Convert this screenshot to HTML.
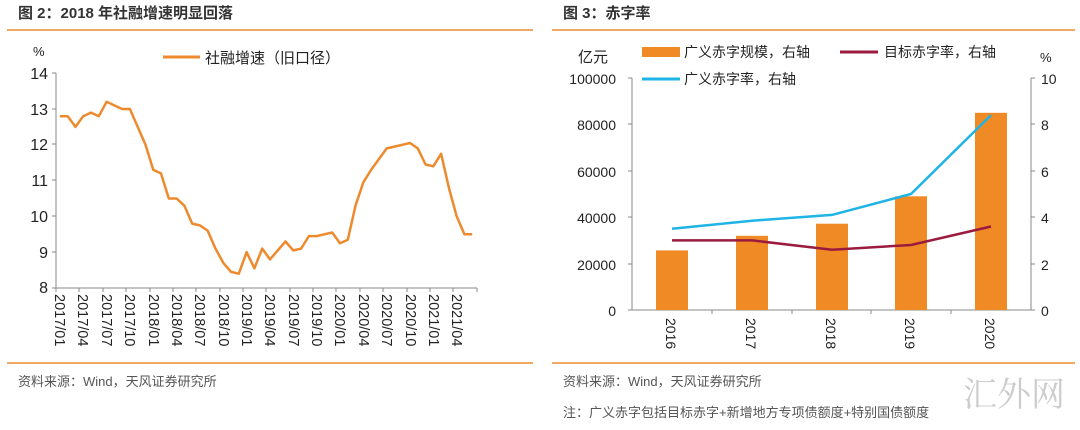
<!DOCTYPE html>
<html><head><meta charset="utf-8"><style>
body{margin:0;background:#fff;width:1080px;height:425px;overflow:hidden}
svg{font-family:"Liberation Sans","Noto Sans CJK SC",sans-serif}
</style></head><body>
<svg width="1080" height="425" viewBox="0 0 1080 425">
<g fill="#333" font-weight="bold" font-size="15"><text x="18" y="18">图 2：2018 年社融增速明显回落</text><text x="563" y="18">图 3：赤字率</text></g>
<g stroke="#EE8A2E" stroke-width="1.5"><line x1="7" y1="30" x2="533" y2="30"/><line x1="552" y1="30" x2="1075" y2="30"/><line x1="7" y1="363" x2="533" y2="363"/><line x1="552" y1="363" x2="1075" y2="363"/></g>
<g fill="#555" font-size="13"><text x="18" y="386">资料来源：Wind，天风证券研究所</text><text x="563" y="386">资料来源：Wind，天风证券研究所</text><text x="563" y="417">注：广义赤字包括目标赤字+新增地方专项债额度+特别国债额度</text></g>
<!-- left chart -->
<g font-size="16" fill="#222" text-anchor="end">
<text x="48" y="79">14</text><text x="48" y="115">13</text><text x="48" y="150">12</text><text x="48" y="186">11</text><text x="48" y="222">10</text><text x="48" y="258">9</text><text x="48" y="293">8</text></g>
<text x="33" y="56" font-size="13" fill="#222">%</text>
<g stroke="#888" stroke-width="1"><line x1="56" y1="73" x2="56" y2="288"/><line x1="56" y1="288" x2="477" y2="288"/>
<path d="M52 73H56M52 109H56M52 144H56M52 180H56M52 216H56M52 252H56M52 288H56"/>
<path d="M56 288v4M79 288v4M103 288v4M126 288v4M150 288v4M173 288v4M196 288v4M220 288v4M243 288v4M266 288v4M290 288v4M313 288v4M336 288v4M360 288v4M383 288v4M407 288v4M430 288v4M453 288v4M477 288v4"/></g>
<g font-size="14.5" fill="#222">
<text transform="translate(55,294) rotate(90)">2017/01</text><text transform="translate(78,294) rotate(90)">2017/04</text><text transform="translate(102,294) rotate(90)">2017/07</text><text transform="translate(125,294) rotate(90)">2017/10</text><text transform="translate(149,294) rotate(90)">2018/01</text><text transform="translate(172,294) rotate(90)">2018/04</text><text transform="translate(195,294) rotate(90)">2018/07</text><text transform="translate(219,294) rotate(90)">2018/10</text><text transform="translate(242,294) rotate(90)">2019/01</text><text transform="translate(265,294) rotate(90)">2019/04</text><text transform="translate(289,294) rotate(90)">2019/07</text><text transform="translate(312,294) rotate(90)">2019/10</text><text transform="translate(335,294) rotate(90)">2020/01</text><text transform="translate(359,294) rotate(90)">2020/04</text><text transform="translate(382,294) rotate(90)">2020/07</text><text transform="translate(406,294) rotate(90)">2020/10</text><text transform="translate(429,294) rotate(90)">2021/01</text><text transform="translate(452,294) rotate(90)">2021/04</text></g>
<line x1="163" y1="57" x2="200" y2="57" stroke="#EE8A2E" stroke-width="3"/>
<text x="205" y="63" font-size="15" fill="#222">社融增速（旧口径）</text>
<polyline id="ln" fill="none" stroke="#EE8A2E" stroke-width="2.5" stroke-linejoin="round" points=""/>
<!-- right chart -->
<g stroke="#888" stroke-width="1"><line x1="632" y1="78" x2="632" y2="310"/><line x1="1031" y1="78" x2="1031" y2="310"/><line x1="628" y1="310" x2="1035" y2="310"/>
<path d="M628 78H632M628 124H632M628 171H632M628 217H632M628 264H632M1031 78H1035M1031 124H1035M1031 171H1035M1031 217H1035M1031 264H1035M712 310v4M792 310v4M871 310v4M951 310v4"/></g>
<g font-size="14" fill="#222" text-anchor="end"><text x="616" y="84">100000</text><text x="616" y="130">80000</text><text x="616" y="177">60000</text><text x="616" y="223">40000</text><text x="616" y="270">20000</text><text x="616" y="316">0</text></g>
<g font-size="14" fill="#222"><text x="1041" y="84">10</text><text x="1041" y="130">8</text><text x="1041" y="177">6</text><text x="1041" y="223">4</text><text x="1041" y="270">2</text><text x="1041" y="316">0</text>
<text x="578" y="62" font-size="15">亿元</text><text x="1040" y="62" font-size="13">%</text></g>
<g font-size="14" fill="#222">
<text transform="translate(666,318) rotate(90)">2016</text><text transform="translate(746,318) rotate(90)">2017</text><text transform="translate(826,318) rotate(90)">2018</text><text transform="translate(905,318) rotate(90)">2019</text><text transform="translate(985,318) rotate(90)">2020</text></g>
<g fill="#F08A24"><rect x="656" y="250.4" width="32" height="59.6"/><rect x="736" y="235.8" width="32" height="74.2"/><rect x="816" y="223.7" width="32" height="86.3"/><rect x="895" y="196.3" width="32" height="113.7"/><rect x="975" y="112.8" width="32" height="197.2"/></g>
<polyline fill="none" stroke="#1EB4E6" stroke-width="2.5" points="672,228.8 752,220.7 832,214.9 911,194 991,115.1"/>
<polyline fill="none" stroke="#9B1B3E" stroke-width="2.5" points="672,240.4 752,240.4 832,249.7 911,245 991,226.5"/>
<rect x="642" y="47" width="38" height="10" fill="#F08A24"/><text x="684" y="57" font-size="14" fill="#222">广义赤字规模，右轴</text>
<line x1="840" y1="52" x2="878" y2="52" stroke="#9B1B3E" stroke-width="3"/><text x="884" y="57" font-size="14" fill="#222">目标赤字率，右轴</text>
<line x1="642" y1="79" x2="680" y2="79" stroke="#1EB4E6" stroke-width="3"/><text x="684" y="84" font-size="14" fill="#222">广义赤字率，右轴</text>
<g fill="#ccc" font-size="34" font-family="'Noto Serif CJK SC',serif"><text x="963" y="406">汇外网</text></g>
</svg>
<script>
var v=[12.8,12.8,12.5,12.8,12.9,12.8,13.2,13.1,13.0,13.0,12.5,12.0,11.3,11.2,10.5,10.5,10.3,9.8,9.75,9.6,9.1,8.7,8.45,8.4,9.0,8.55,9.1,8.8,9.05,9.3,9.05,9.1,9.45,9.45,9.5,9.55,9.25,9.35,10.3,10.95,11.3,11.6,11.9,11.95,12.0,12.05,11.9,11.45,11.4,11.75,10.8,10.0,9.5,9.5];
document.getElementById('ln').setAttribute('points',v.map(function(y,i){return (56+7.78*(i+0.5)).toFixed(1)+','+(288-(y-8)*35.8).toFixed(1)}).join(' '));
</script>
</body></html>
